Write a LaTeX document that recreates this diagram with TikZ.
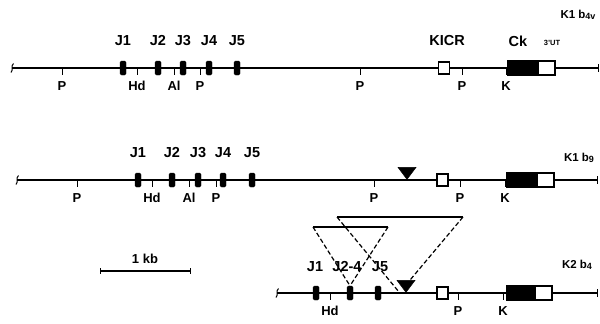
\documentclass[tikz,border=0pt]{standalone}
\usepackage{fontspec}
\setmainfont{Liberation Sans}
\usetikzlibrary{calc,shapes.geometric}
\begin{document}
\begin{tikzpicture}[x=1pt,y=-1pt,
  dna/.style={line width=1.8pt},
  endmark/.style={line width=1pt},
  exon/.style={draw=black,fill=black,rounded corners=1.5pt,minimum width=6pt,minimum height=14pt,inner sep=0pt},
  kbox/.style={draw=black,fill=white,line width=1.4pt,minimum width=11pt,minimum height=12pt,inner sep=0pt},
  ckb/.style={draw=black,fill=black,line width=1.4pt,minimum height=14pt,inner sep=0pt},
  ckw/.style={draw=black,fill=white,line width=1.4pt,minimum height=14pt,inner sep=0pt},
  insm/.style={isosceles triangle,isosceles triangle stretches=true,shape border rotate=-90,fill=black,draw=black,line width=0.5pt,minimum height=12pt,minimum width=18pt,inner sep=0pt},
  toplab/.style={font=\fontsize{14.5}{16}\selectfont\bfseries,inner sep=0pt},
  lab/.style={font=\fontsize{13}{15}\selectfont\bfseries,inner sep=0pt},
  rowlab/.style={font=\fontsize{11.5}{13}\selectfont\bfseries,inner sep=0pt},
  tinylab/.style={font=\fontsize{7.5}{8}\selectfont\bfseries,inner sep=0pt},
  tk/.style={line width=1pt},
  bar/.style={line width=1.6pt},
  dsh/.style={line width=1.2pt,dash pattern=on 4.5pt off 2.5pt}
]
\useasboundingbox (0,0) rectangle (600,324);
\newcommand{\leftend}[1]{\draw[endmark] ($(#1)+(1.5,-4.5)$) .. controls ($(#1)+(-1.5,-2)$) and ($(#1)+(1.5,2)$) .. ($(#1)+(-1,4.5)$);}
\newcommand{\rightend}[1]{\draw[endmark] ($(#1)+(0,-4)$) -- ($(#1)+(0,4)$);}
\newcommand{\rsite}[3]{\coordinate (#1) at (#2); \draw[tk] (#1) -- ++(0,7); \node[lab] (#1l) at ($(#1)+(0,18)$) {#3};}
\newcommand{\subsc}[1]{\raisebox{-1.2pt}{\fontsize{9}{10}\selectfont #1}}

% ---------------- Row 1 ----------------
\coordinate (r1L) at (12,68); \coordinate (r1R) at (598,68);
\draw[dna] (r1L) -- (r1R);
\leftend{r1L} \rightend{r1R}
\node[exon] (r1j1) at (123,68) {}; \node[toplab] (r1j1l) at (123,41) {J1};
\node[exon] (r1j2) at (158,68) {}; \node[toplab] (r1j2l) at (158,41) {J2};
\node[exon] (r1j3) at (183,68) {}; \node[toplab] (r1j3l) at (183,41) {J3};
\node[exon] (r1j4) at (209,68) {}; \node[toplab] (r1j4l) at (209,41) {J4};
\node[exon] (r1j5) at (237,68) {}; \node[toplab] (r1j5l) at (237,41) {J5};
\rsite{r1p1}{62,68}{P}
\rsite{r1hd}{137,68}{Hd}
\rsite{r1al}{174,68}{Al}
\rsite{r1p2}{200,68}{P}
\rsite{r1p3}{360,68}{P}
\rsite{r1p4}{462,68}{P}
\rsite{r1k}{506,68}{K}
\node[kbox] (r1kicr) at (444,68) {}; \node[toplab] (r1kicrl) at (447,41) {KICR};
\node[ckb,minimum width=30pt] (r1ckb) at (523,68) {};
\node[ckw,minimum width=17pt] (r1ckw) at (546.5,68) {};
\node[toplab] (r1ckl) at (518,41) {Ck};
\node[tinylab] (r1utr) at (552,42.5) {3'UT};
\node[rowlab] (r1name) at (578,15) {K1 b\subsc{4v}};

% ---------------- Row 2 ----------------
\coordinate (r2L) at (17,180); \coordinate (r2R) at (597,180);
\draw[dna] (r2L) -- (r2R);
\leftend{r2L} \rightend{r2R}
\node[exon] (r2j1) at (138,180) {}; \node[toplab] (r2j1l) at (138,153) {J1};
\node[exon] (r2j2) at (172,180) {}; \node[toplab] (r2j2l) at (172,153) {J2};
\node[exon] (r2j3) at (198,180) {}; \node[toplab] (r2j3l) at (198,153) {J3};
\node[exon] (r2j4) at (223,180) {}; \node[toplab] (r2j4l) at (223,153) {J4};
\node[exon] (r2j5) at (252,180) {}; \node[toplab] (r2j5l) at (252,153) {J5};
\rsite{r2p1}{77,180}{P}
\rsite{r2hd}{152,180}{Hd}
\rsite{r2al}{189,180}{Al}
\rsite{r2p2}{216,180}{P}
\rsite{r2p3}{374,180}{P}
\rsite{r2p4}{460,180}{P}
\rsite{r2k}{505,180}{K}
\node[insm,anchor=apex] (r2ins) at (407,180) {};
\node[kbox] (r2kicr) at (442.5,180) {};
\node[ckb,minimum width=30pt] (r2ckb) at (522,180) {};
\node[ckw,minimum width=17pt] (r2ckw) at (545.5,180) {};
\node[rowlab] (r2name) at (579,158) {K1 b\subsc{9}};

% ---------------- Scale bar ----------------
\coordinate (sbL) at (100,271); \coordinate (sbR) at (190,271);
\draw[bar] (sbL) -- (sbR);
\draw[endmark] ($(sbL)+(0,-3)$) -- ($(sbL)+(0,3)$);
\draw[endmark] ($(sbR)+(0,-3)$) -- ($(sbR)+(0,3)$);
\node[lab] (sblab) at (145,259) {1 kb};

% ---------------- Row 3 ----------------
\coordinate (r3L) at (277,293); \coordinate (r3R) at (597,293);
\draw[dna] (r3L) -- (r3R);
\leftend{r3L} \rightend{r3R}
\node[exon] (r3j1) at (316,293) {}; \node[toplab] (r3j1l) at (315,267) {J1};
\node[exon] (r3j24) at (350,293) {}; \node[toplab] (r3j24l) at (347,267) {J2-4};
\node[exon] (r3j5) at (378,293) {}; \node[toplab] (r3j5l) at (380,267) {J5};
\rsite{r3hd}{330,293}{Hd}
\rsite{r3p}{458,293}{P}
\rsite{r3k}{503,293}{K}
\node[insm,anchor=apex] (r3ins) at (406,293) {};
\node[kbox] (r3kicr) at (442.5,293) {};
\node[ckb,minimum width=28pt] (r3ckb) at (521,293) {};
\node[ckw,minimum width=17pt] (r3ckw) at (543.5,293) {};
\node[rowlab] (r3name) at (577,265) {K2 b\subsc{4}};

% ---------------- Deletion brackets ----------------
\coordinate (lbL) at (313,227); \coordinate (lbR) at (388,227);
\coordinate (ubL) at (337,217); \coordinate (ubR) at (463,217);
\draw[bar] (lbL) -- (lbR);
\draw[bar] (ubL) -- (ubR);
\draw[dsh] (lbL) -- (r3j24.north);
\draw[dsh] (lbR) -- (r3j24.north);
\coordinate (insL) at (399,292);
\draw[dsh] (ubL) -- (insL);
\draw[dsh] (ubR) -- (r3ins.center);
\end{tikzpicture}
\end{document}
